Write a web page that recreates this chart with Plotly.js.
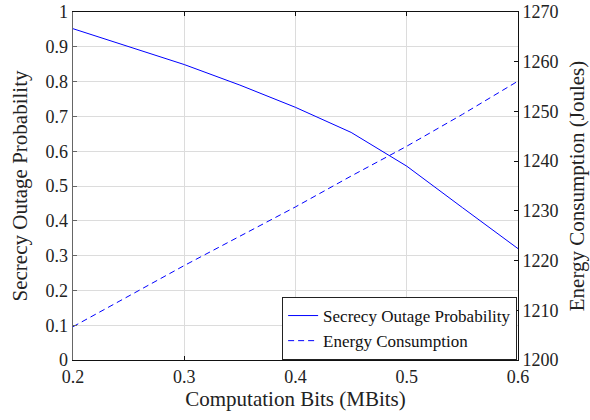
<!DOCTYPE html>
<html>
<head>
<meta charset="utf-8">
<script src="https://cdn.plot.ly/plotly-3.0.1.min.js"></script>
<style>html,body{margin:0;padding:0;background:#fff;}#chart{width:590px;height:420px;}</style>
</head>
<body>
<div id="chart"></div>
<script>
const computationBits = [0.2, 0.25, 0.3, 0.35, 0.4, 0.45, 0.5, 0.55, 0.6];
const secrecyOutage = [0.952, 0.901, 0.849, 0.79, 0.726, 0.654, 0.557, 0.438, 0.32];
const energyConsumption = [1206.7, 1212.9, 1219.0, 1224.9, 1230.8, 1237.0, 1243.0, 1249.4, 1256.1];
const leftTicks = [0, 0.1, 0.2, 0.3, 0.4, 0.5, 0.6, 0.7, 0.8, 0.9, 1];
const rightTicks = [1200, 1210, 1220, 1230, 1240, 1250, 1260, 1270];
const xTicks = [0.2, 0.3, 0.4, 0.5, 0.6];

const font = "'Liberation Serif', 'Times New Roman', serif";

const traces = [
  {x: computationBits, y: secrecyOutage, name: 'Secrecy Outage Probability', mode: 'lines',
   line: {color: '#0000ff', width: 1}, yaxis: 'y'},
  {x: computationBits, y: energyConsumption, name: 'Energy Consumption', mode: 'lines',
   line: {color: '#0000ff', width: 1, dash: '6px,4px'}, yaxis: 'y2'}
];

const layout = {
  width: 590, height: 420,
  margin: {l: 73, r: 72, t: 12, b: 60},
  paper_bgcolor: '#fff', plot_bgcolor: '#fff',
  font: {family: font, size: 18, color: '#222'},
  showlegend: true,
  legend: {x: 0.998, y: 0, xanchor: 'right', yanchor: 'bottom', bgcolor: '#fff',
           bordercolor: '#222', borderwidth: 1, font: {family: font, size: 17, color: '#111'},
           tracegroupgap: 0},
  xaxis: {range: [0.2, 0.6], tickvals: xTicks, ticktext: xTicks.map(v => v.toFixed(1)),
          showgrid: true, gridcolor: '#dcdcdc', gridwidth: 1, zeroline: false,
          showline: true, linecolor: '#111', linewidth: 1, mirror: 'ticks',
          ticks: 'inside', ticklen: 4, tickcolor: '#111',
          title: {text: 'Computation Bits (MBits)', font: {family: font, size: 21, color: '#222'}, standoff: 3},
          tickfont: {family: font, size: 18, color: '#222'}},
  yaxis: {range: [0, 1], tickvals: leftTicks, ticktext: leftTicks.map(v => String(v)),
          showgrid: true, gridcolor: '#dcdcdc', gridwidth: 1, zeroline: false,
          showline: true, linecolor: '#666', linewidth: 1.5,
          ticks: 'inside', ticklen: 4, tickcolor: '#666',
          title: {text: 'Secrecy Outage Probability', font: {family: font, size: 21, color: '#222'}, standoff: 12},
          tickfont: {family: font, size: 18, color: '#222'}},
  yaxis2: {range: [1200, 1270], tickvals: rightTicks, overlaying: 'y', side: 'right',
          showgrid: false, zeroline: false,
          showline: true, linecolor: '#111', linewidth: 1,
          ticks: 'inside', ticklen: 4, tickcolor: '#111',
          title: {text: 'Energy Consumption (Joules)', font: {family: font, size: 21, color: '#222'}, standoff: 11},
          tickfont: {family: font, size: 18, color: '#222'}}
};

Plotly.newPlot('chart', traces, layout, {staticPlot: true, displayModeBar: false});
</script>
</body>
</html>
